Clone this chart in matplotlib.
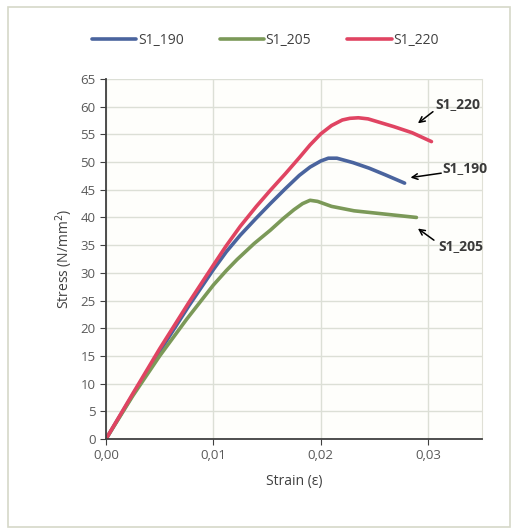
import matplotlib.pyplot as plt
from matplotlib.patches import Rectangle

# data (strain, stress)
strain_190 = [0, 0.0025, 0.005, 0.0077, 0.01, 0.0112, 0.0125, 0.014, 0.0153, 0.0167, 0.018, 0.019, 0.02,
              0.0207, 0.0215, 0.023, 0.0245, 0.026, 0.0278]
stress_190 = [0, 8.0, 15.8, 24.0, 30.6, 33.8, 36.8, 39.9, 42.5, 45.2, 47.6, 49.1, 50.2,
              50.7, 50.7, 49.9, 48.9, 47.7, 46.2]

strain_205 = [0, 0.0025, 0.005, 0.0075, 0.01, 0.0112, 0.0122, 0.0138, 0.0153, 0.0165, 0.0175, 0.0183, 0.019,
              0.0197, 0.021, 0.0231, 0.026, 0.0289]
stress_205 = [0, 7.8, 15.0, 21.6, 27.8, 30.4, 32.4, 35.3, 37.7, 39.8, 41.4, 42.5, 43.1,
              42.9, 42.0, 41.2, 40.6, 40.0]

strain_220 = [0, 0.0025, 0.005, 0.0077, 0.01, 0.0112, 0.0125, 0.014, 0.0153, 0.0167, 0.018, 0.019, 0.02,
              0.021, 0.022, 0.0227, 0.0235, 0.0244, 0.0256, 0.0268, 0.0285, 0.0303]
stress_220 = [0, 8.2, 16.3, 24.6, 31.4, 34.9, 38.4, 42.0, 44.9, 47.9, 50.8, 53.1, 55.1,
              56.6, 57.6, 57.9, 58.0, 57.8, 57.1, 56.4, 55.3, 53.7]

labels = ['S1_190', 'S1_205', 'S1_220']
colors = ['#4a649e', '#7b9958', '#e04462']

# annotation positions: (text pos, arrow tail, arrow tip)
notes = {
    'S1_220': ((0.0307, 60.5), (0.03044, 59.1), (0.02904, 57.0)),
    'S1_190': ((0.0313, 48.9), (0.03121, 48.0), (0.02835, 47.2)),
    'S1_205': ((0.0309, 34.9), (0.03053, 35.9), (0.02904, 38.0)),
}

plt.rcParams['font.family'] = ['Open Sans', 'DejaVu Sans']
fig = plt.figure(figsize=(5.15, 5.31), dpi=100)
fig.patches.append(Rectangle((8 / 515, 1 - 527 / 531), 502 / 515, 520 / 531,
                             transform=fig.transFigure, fill=False,
                             edgecolor='#d6d8c8', lw=1.2))
ax = fig.add_axes([0.2058, 0.1733, 0.7300, 0.6779])
ax.set_facecolor('#fefefb')

for x, y, lab, c in zip([strain_190, strain_205, strain_220],
                        [stress_190, stress_205, stress_220], labels, colors):
    ax.plot(x, y, color=c, lw=2.6, label=lab, solid_capstyle='round',
            solid_joinstyle='round')

for lab, (tpos, tail, tip) in notes.items():
    ax.annotate('', xy=tip, xytext=tail,
                arrowprops=dict(arrowstyle='->', color='black', lw=1.1,
                                shrinkA=0, shrinkB=0, mutation_scale=10))
    ax.text(tpos[0], tpos[1], lab, fontsize=10, fontweight='bold',
            color='#3a3a3a', ha='left', va='center')

ax.set_xlim(0, 0.035)
ax.set_ylim(0, 65)
ax.set_xticks([0, 0.01, 0.02, 0.03])
ax.set_xticklabels(['0,00', '0,01', '0,02', '0,03'])
ax.set_yticks(range(0, 66, 5))
ax.grid(True, color='#dcdfd6', lw=1.0)
ax.set_axisbelow(True)
ax.spines['top'].set_visible(False)
ax.spines['right'].set_color('#e0e0d6')
ax.spines['left'].set_color('#404040')
ax.spines['bottom'].set_color('#404040')
ax.spines['left'].set_linewidth(1.3)
ax.spines['bottom'].set_linewidth(1.3)
ax.tick_params(axis='both', direction='out', length=4, color='#404040',
               labelsize=9.5, labelcolor='#595959')

ax.set_xlabel('Strain (ε)', fontsize=10, color='#404040', labelpad=8)
ax.set_ylabel('Stress (N/mm$^2$)', fontsize=10, color='#404040', labelpad=4)

fig.legend(loc='center', bbox_to_anchor=(0.515, 1 - 40 / 531), ncol=3,
           frameon=False, fontsize=10, handlelength=3.2, handletextpad=0.1,
           columnspacing=2.6, labelcolor='#404040')

fig.savefig('out.png', dpi=100)
